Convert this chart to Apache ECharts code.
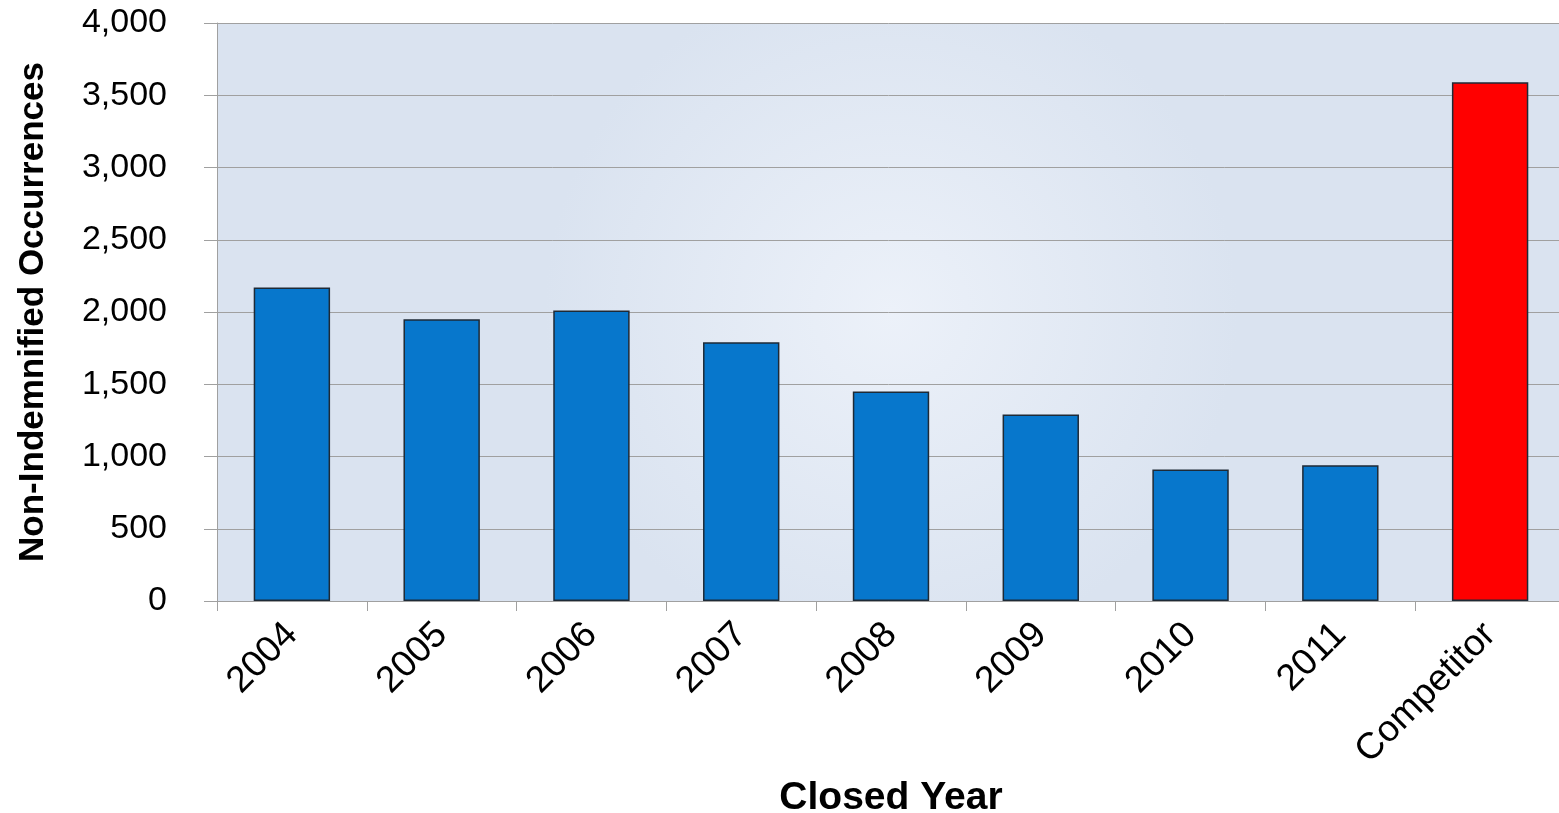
<!DOCTYPE html>
<html><head><meta charset="utf-8">
<script src="https://cdn.jsdelivr.net/npm/echarts@6/dist/echarts.min.js"></script>
<style>html,body{margin:0;padding:0;background:#fff}#c{width:1559px;height:813px}</style>
</head><body><div id="c"></div>
<script>
const categories = ['2004','2005','2006','2007','2008','2009','2010','2011','Competitor'];
const values = [2170, 1950, 2010, 1790, 1450, 1290, 910, 940, 3590];
const barColors = ['#0777CC','#0777CC','#0777CC','#0777CC','#0777CC','#0777CC','#0777CC','#0777CC','#FF0000'];
const yTicks = [0, 500, 1000, 1500, 2000, 2500, 3000, 3500, 4000];

const chart = echarts.init(document.getElementById('c'), null, {renderer:'canvas'});
chart.setOption({
  animation: false,
  grid: {
    left: 217, right: -6, top: 23, bottom: 212, show: true, borderWidth: 0,
    outerBoundsMode: 'none', containLabel: false,
    backgroundColor: new echarts.graphic.RadialGradient(0.5, 0.5, 0.6, [
      {offset: 0, color: '#ECF1F9'}, {offset: 1, color: '#DAE3F0'}
    ])
  },
  xAxis: {
    type: 'category', data: categories,
    name: 'Closed Year', nameLocation: 'middle', nameGap: 178,
    nameTextStyle: {fontFamily: 'Liberation Sans, Arial', fontWeight: 'bold', fontSize: 39, color: '#000'},
    axisLine: {lineStyle: {color: '#A0A0A0', width: 1}},
    axisTick: {show: true, length: 10, lineStyle: {color: '#A0A0A0'}},
    axisLabel: {rotate: 45, fontFamily: 'Liberation Sans, Arial', fontSize: 37, color: '#000', margin: 28}
  },
  yAxis: {
    type: 'value', min: yTicks[0], max: yTicks[yTicks.length-1], interval: 500,
    name: 'Non-Indemnified Occurrences', nameLocation: 'middle', nameGap: 166,
    nameTextStyle: {fontFamily: 'Liberation Sans Narrow, Liberation Sans, Arial', fontWeight: 'bold', fontSize: 35, color: '#000'},
    axisLine: {show: true, lineStyle: {color: '#A0A0A0', width: 1}},
    axisTick: {show: true, length: 13, lineStyle: {color: '#A0A0A0'}},
    axisLabel: {fontFamily: 'Liberation Sans, Arial', fontSize: 34, color: '#000', margin: 50,
      formatter: v => v.toLocaleString('en-US')},
    splitLine: {lineStyle: {color: '#A0A0A0', width: 1}}
  },
  series: [{
    type: 'bar', barWidth: '51%',
    data: values.map((v, i) => ({value: v, itemStyle: {color: barColors[i]}})),
    itemStyle: {borderColor: '#1E2A36', borderWidth: 1.5}
  }]
});
</script></body></html>
